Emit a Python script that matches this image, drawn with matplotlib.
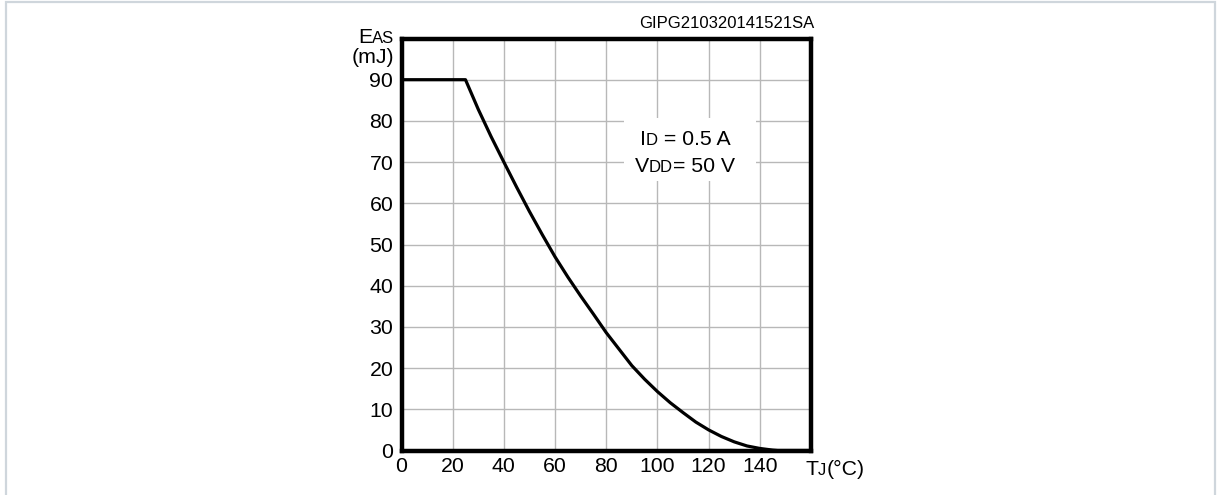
import matplotlib
matplotlib.use("Agg")
import matplotlib.pyplot as plt
from matplotlib.patches import Rectangle
from matplotlib.transforms import IdentityTransform

plt.rcParams['font.family'] = ['Liberation Sans', 'DejaVu Sans']

# E_AS derating curve
tj = [0, 25, 30, 35, 40, 45, 50, 55, 60, 65, 70, 75, 80, 85, 90, 95,
      100, 105, 110, 115, 120, 125, 130, 135, 140, 145, 147, 160]
eas = [90, 90, 82.8, 76.2, 70, 63.9, 58, 52.4, 47, 42.1, 37.5, 33.1,
       28.6, 24.6, 20.6, 17.3, 14.3, 11.6, 9.2, 6.9, 5.0, 3.4, 2.1, 1.1,
       0.5, 0.1, 0, 0]

x_ticks = [0, 20, 40, 60, 80, 100, 120, 140]
y_ticks = [0, 10, 20, 30, 40, 50, 60, 70, 80, 90]
grid_x = [20, 40, 60, 80, 100, 120, 140]
grid_y = [10, 20, 30, 40, 50, 60, 70, 80, 90]
code_label = "GIPG210320141521SA"

W, H = 1223, 495
FS = 15.3        # main text
FS_SMALL = 12.0  # the small caps after E, I, V, T

fig = plt.figure(figsize=(W / 100, H / 100), dpi=100)
renderer = fig.canvas.get_renderer()

# light page frame
fig.add_artist(Rectangle((6 / W, -0.1), 1209 / W, 1.1 - 2 / H,
                         transform=fig.transFigure, fill=False,
                         edgecolor='#cfd6dc', linewidth=1.6))

ax = fig.add_axes([401.5 / W, 1 - 450.5 / H, 409.5 / W, 412 / H])
ax.set_xlim(0, 160)
ax.set_ylim(0, 100)

for gx in grid_x:
    ax.axvline(gx, color='#b8b8b8', lw=1.0, zorder=1)
for gy in grid_y:
    ax.axhline(gy, color='#b8b8b8', lw=1.0, zorder=1)

ax.add_patch(Rectangle((87, 65.5), 51.6, 15.3, facecolor='white',
                       edgecolor='none', zorder=2))

ax.plot(tj, eas, color='black', lw=2.3, zorder=3, solid_joinstyle='round')

for s in ax.spines.values():
    s.set_linewidth(3.2)
    s.set_zorder(5)

ax.set_xticks(x_ticks)
ax.set_yticks(y_ticks)
ax.tick_params(length=0, labelsize=FS)
ax.tick_params(axis='y', pad=6)
ax.tick_params(axis='x', pad=5)


def chain(px, py, parts, ha='left'):
    # pieces of text on one baseline, given in pixels from top-left
    x, y = px, H - py
    texts = []
    for s, fs in parts:
        t = fig.text(x, y, s, fontsize=fs, va='baseline', ha='left',
                     transform=IdentityTransform(), zorder=6)
        x = t.get_window_extent(renderer).x1
        texts.append(t)
    if ha == 'right':
        dx = px - x
        for t in texts:
            tx, ty = t.get_position()
            t.set_position((tx + dx, ty))
    return texts


# legend text in the box
chain(640, 145, [("I", FS), ("D", FS_SMALL), (" = 0.5 A", FS)])
chain(635, 171.7, [("V", FS), ("DD", FS_SMALL), ("= 50 V", FS)])

# axis titles
chain(394, 42.7, [("E", FS), ("AS", FS_SMALL)], ha='right')
chain(394, 63.3, [("(mJ)", FS)], ha='right')
chain(805, 475, [("T", FS), ("J", FS_SMALL), ("(°C)", FS)])

fig.text(814 / W, 1 - 24 / H, code_label, fontsize=12, ha='right',
         va='center')

fig.savefig("out.png", dpi=100)
